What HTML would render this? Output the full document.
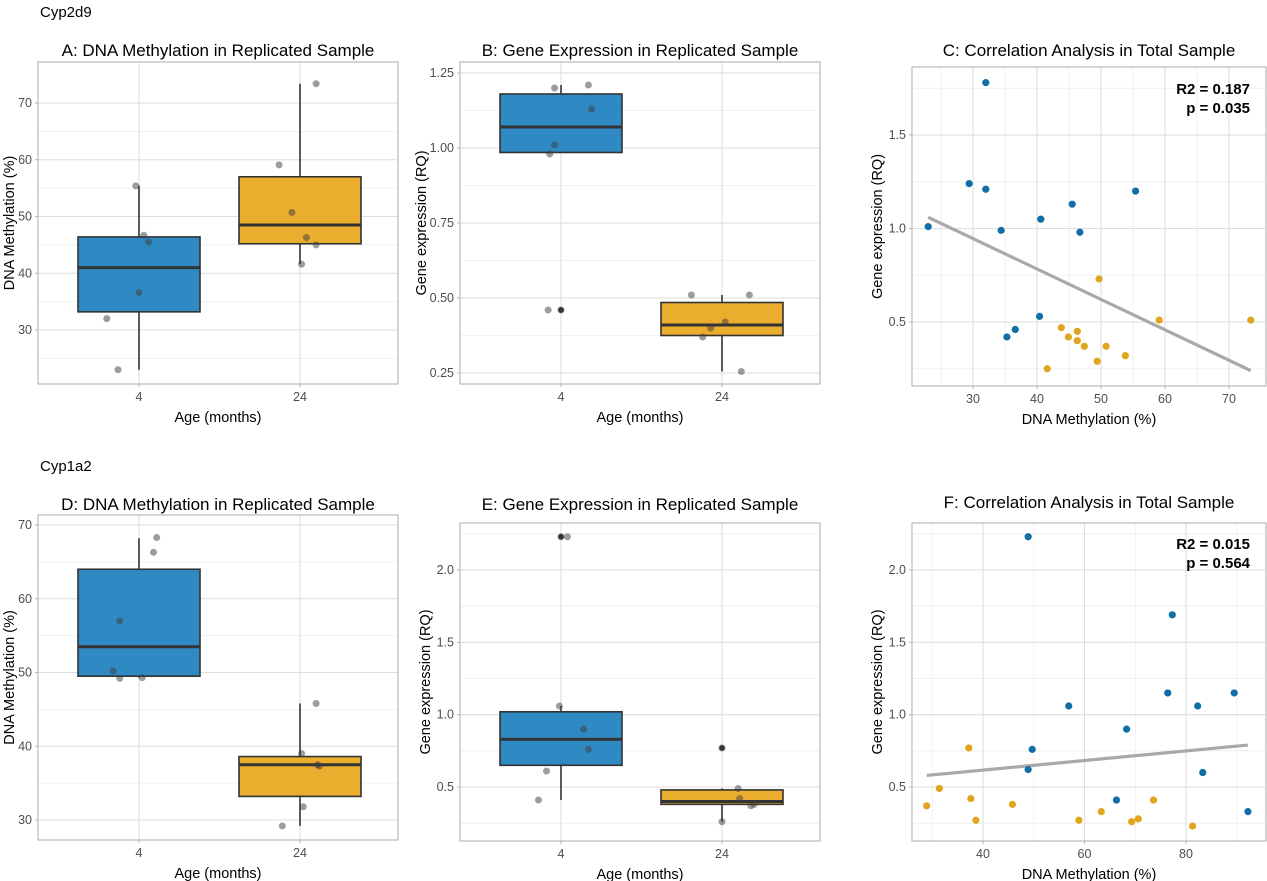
<!DOCTYPE html>
<html><head><meta charset="utf-8"><style>
body{margin:0;background:#fff;}
svg{display:block;font-family:"Liberation Sans",Arial,sans-serif;}
</style></head><body>
<svg id="chart" width="1267" height="881" viewBox="0 0 1267 881">
<text x="40" y="17" font-size="15" fill="#000">Cyp2d9</text>
<text x="40" y="471" font-size="15" fill="#000">Cyp1a2</text>
</svg>
<script>
// ---------- data ----------
const categories = ["4", "24"];
// Panel A (DNA methylation, Cyp2d9)
const aBox4 = [23, 33.2, 41, 46.4, 55.4];
const aBox24 = [41.6, 45.2, 48.5, 57, 73.4];
const aPts4 = [55.4, 46.7, 45.5, 36.6, 32, 23];
const aPts24 = [73.4, 59.1, 50.7, 46.3, 45, 41.6];
const aJit4 = [-0.02, 0.03, 0.06, 0.0, -0.2, -0.13];
const aJit24 = [0.1, -0.13, -0.05, 0.04, 0.1, 0.01];
const aTicks = [30, 40, 50, 60, 70];
// Panel B (gene expression, Cyp2d9)
const bBox4 = [0.985, 0.985, 1.07, 1.18, 1.21];
const bBox24 = [0.255, 0.375, 0.41, 0.485, 0.51];
const bPts4 = [1.21, 1.20, 1.13, 1.01, 0.98, 0.46, 0.46];
const bPts24 = [0.51, 0.51, 0.42, 0.40, 0.37, 0.255];
const bJit4 = [0.17, -0.04, 0.19, -0.04, -0.07, -0.08, 0.0];
const bJit24 = [-0.19, 0.17, 0.02, -0.07, -0.12, 0.12];
const bOut4 = [0.46, 0.46];
const bTicks = [0.25, 0.5, 0.75, 1.0, 1.25];
const bTickLabels = ["0.25", "0.50", "0.75", "1.00", "1.25"];
// Panel C (correlation, Cyp2d9)
const cYoungX = [32, 29.4, 32, 34.4, 23, 40.6, 45.5, 46.7, 55.4, 40.4, 35.3, 36.6];
const cYoungY = [1.78, 1.24, 1.21, 0.99, 1.01, 1.05, 1.13, 0.98, 1.20, 0.53, 0.42, 0.46];
const cOldX = [49.7, 59.1, 73.4, 43.8, 46.3, 44.9, 46.3, 47.4, 50.8, 53.8, 49.4, 41.6];
const cOldY = [0.73, 0.51, 0.51, 0.47, 0.45, 0.42, 0.40, 0.37, 0.37, 0.32, 0.29, 0.25];
const cFit = [[23, 1.06], [73.4, 0.24]];
const cXTicks = [30, 40, 50, 60, 70];
const cYTicks = [0.5, 1.0, 1.5];
// Panel D (DNA methylation, Cyp1a2)
const dBox4 = [49.3, 49.5, 53.5, 64, 68.2];
const dBox24 = [29.2, 33.2, 37.5, 38.6, 45.8];
const dPts4 = [68.3, 66.3, 57, 50.2, 49.2, 49.3];
const dPts24 = [45.8, 39, 37.5, 31.8, 29.2, 37.3];
const dJit4 = [0.11, 0.09, -0.12, -0.16, -0.12, 0.02];
const dJit24 = [0.1, 0.01, 0.11, 0.02, -0.11, 0.12];
const dTicks = [30, 40, 50, 60, 70];
// Panel E (gene expression, Cyp1a2)
const eBox4 = [0.41, 0.65, 0.83, 1.02, 1.06];
const eBox24 = [0.26, 0.38, 0.40, 0.48, 0.49];
const ePts4 = [2.23, 2.23, 1.06, 0.90, 0.76, 0.61, 0.41];
const ePts24 = [0.77, 0.49, 0.42, 0.37, 0.38, 0.26];
const eJit4 = [0.0, 0.04, -0.01, 0.14, 0.17, -0.09, -0.14];
const eJit24 = [0.0, 0.1, 0.11, 0.18, 0.2, 0.0];
const eOut4 = [2.23];
const eOut24 = [0.77];
const eTicks = [0.5, 1.0, 1.5, 2.0];
// Panel F (correlation, Cyp1a2)
const fYoungX = [48.9, 77.3, 76.4, 89.5, 56.9, 82.3, 68.3, 49.7, 48.9, 83.3, 66.3, 92.2];
const fYoungY = [2.23, 1.69, 1.15, 1.15, 1.06, 1.06, 0.90, 0.76, 0.62, 0.60, 0.41, 0.33];
const fOldX = [37.2, 31.4, 37.6, 45.8, 28.9, 73.6, 63.3, 38.6, 58.9, 69.3, 70.6, 81.3];
const fOldY = [0.77, 0.49, 0.42, 0.38, 0.37, 0.41, 0.33, 0.27, 0.27, 0.26, 0.28, 0.23];
const fFit = [[28.9, 0.58], [92.2, 0.79]];
const fXTicks = [40, 60, 80];
const fYTicks = [0.5, 1.0, 1.5, 2.0];

// ---------- drawing ----------
const svg = document.getElementById('chart');
const NS = 'http://www.w3.org/2000/svg';
function mk(tag, attrs, parent) {
  const e = document.createElementNS(NS, tag);
  for (const k in attrs) e.setAttribute(k, attrs[k]);
  (parent || svg).appendChild(e);
  return e;
}
function lin(d0, d1, r0, r1) { return v => r0 + (v - d0) * (r1 - r0) / (d1 - d0); }

function frame(p) {
  const g = mk('g', {});
  
  
  const t = mk('text', {x: (p.l + p.r) / 2, y: p.titleY, 'text-anchor': 'middle', 'font-size': 17, fill: '#000'}, g);
  t.textContent = p.title;
  
  
  p.yMinor.forEach(v => {
    const l = mk('line', {x1: p.l, x2: p.r, y1: p.y(v), y2: p.y(v), stroke: '#eeeeee', 'stroke-width': 0.8}, g);
    
    
  });
  (p.xMinor || []).forEach(v => {
    const l = mk('line', {x1: p.x(v), x2: p.x(v), y1: p.t, y2: p.b, stroke: '#eeeeee', 'stroke-width': 0.8}, g);
    
    
  });
  p.yTicks.forEach((v, i) => {
    const l = mk('line', {x1: p.l, x2: p.r, y1: p.y(v), y2: p.y(v), stroke: '#dedede', 'stroke-width': 1.1}, g);
    
    
    const tk = mk('line', {x1: p.l - 3, x2: p.l, y1: p.y(v), y2: p.y(v), stroke: '#b3b3b3'}, g);
    
    
    const tx = mk('text', {x: p.l - 6, y: p.y(v) + 4, 'text-anchor': 'end', 'font-size': 12.5, fill: '#4d4d4d'}, g);
    tx.textContent = p.yLabels ? p.yLabels[i] : String(v);
    
    
  });
  p.xTicks.forEach((v, i) => {
    const xx = p.x(v);
    const l = mk('line', {x1: xx, x2: xx, y1: p.t, y2: p.b, stroke: '#dedede', 'stroke-width': 1.1}, g);
    
    
    const tk = mk('line', {x1: xx, x2: xx, y1: p.b, y2: p.b + 3, stroke: '#b3b3b3'}, g);
    
    
    const tx = mk('text', {x: xx, y: p.b + 17, 'text-anchor': 'middle', 'font-size': 12.5, fill: '#4d4d4d'}, g);
    tx.textContent = p.xLabels[i];
    
    
  });
  const border = mk('rect', {x: p.l, y: p.t, width: p.r - p.l, height: p.b - p.t, fill: 'none', stroke: '#b3b3b3', 'stroke-width': 1.1}, g);
  
  
  const xt = mk('text', {x: (p.l + p.r) / 2, y: p.b + 38, 'text-anchor': 'middle', 'font-size': 14.5, fill: '#000'}, g);
  xt.textContent = p.xTitle;
  
  
  const cy = (p.t + p.b) / 2, cx = p.l - p.ytOff;
  const yt = mk('text', {x: cx, y: cy, 'text-anchor': 'middle', 'font-size': 14.5, fill: '#000', transform: `rotate(-90 ${cx} ${cy})`}, g);
  yt.textContent = p.yTitle;
  
  
  return g;
}

function boxPanel(p, boxes, pts, jits, outs) {
  const g = frame(p);
  const colors = ['#2f8ac4', '#ebad2d'];
  const half = 61;
  boxes.forEach((bx, i) => {
    const cx = p.x(i);
    const w = mk('line', {x1: cx, x2: cx, y1: p.y(bx[0]), y2: p.y(bx[4]), stroke: '#333', 'stroke-width': 1.6}, g);
    
    
    const r = mk('rect', {x: cx - half, y: p.y(bx[3]), width: half * 2, height: p.y(bx[1]) - p.y(bx[3]), fill: colors[i], stroke: '#333', 'stroke-width': 1.6}, g);
    
    
    const m = mk('line', {x1: cx - half, x2: cx + half, y1: p.y(bx[2]), y2: p.y(bx[2]), stroke: '#333', 'stroke-width': 3}, g);
    
    
    (outs[i] || []).forEach(v => {
      const o = mk('circle', {cx: cx, cy: p.y(v), r: 2.8, fill: '#333'}, g);
      
      
    });
    pts[i].forEach((v, k) => {
      const c = mk('circle', {cx: cx + jits[i][k] * 161, cy: p.y(v), r: 3.5, fill: 'rgba(60,60,60,0.5)'}, g);
      
      
    });
  });
}

function scatterPanel(p, yx, yy, ox, oy, fit, stats) {
  const g = frame(p);
  const fl = mk('line', {x1: p.x(fit[0][0]), y1: p.y(fit[0][1]), x2: p.x(fit[1][0]), y2: p.y(fit[1][1]), stroke: '#a9a9a9', 'stroke-width': 3.2}, g);
  
  
  yx.forEach((v, i) => {
    const c = mk('circle', {cx: p.x(v), cy: p.y(yy[i]), r: 3.6, fill: '#0f6fa6'}, g);
    
    
  });
  ox.forEach((v, i) => {
    const c = mk('circle', {cx: p.x(v), cy: p.y(oy[i]), r: 3.6, fill: '#e0a51e'}, g);
    
    
  });
  stats.forEach((s, i) => {
    const t = mk('text', {x: p.r - 16, y: p.statY + i * 19, 'text-anchor': 'end', 'font-size': 15, 'font-weight': 'bold', fill: '#000'}, g);
    t.textContent = s;
    
    
  });
}

const catX = (l) => i => l + 101 + i * 161;
boxPanel({id: 'panel-a', title: 'A: DNA Methylation in Replicated Sample', titleY: 56, l: 38, r: 398, t: 62, b: 384,
  x: catX(38), y: lin(30, 70, 330, 103), yTicks: aTicks, yMinor: [25, 35, 45, 55, 65],
  xTicks: [0, 1], xLabels: categories, xTitle: 'Age (months)', yTitle: 'DNA Methylation (%)', ytOff: 24},
  [aBox4, aBox24], [aPts4, aPts24], [aJit4, aJit24], [[], []]);
boxPanel({id: 'panel-b', title: 'B: Gene Expression in Replicated Sample', titleY: 56, l: 460, r: 820, t: 62, b: 384,
  x: catX(460), y: lin(0.25, 1.25, 373, 73), yTicks: bTicks, yLabels: bTickLabels, yMinor: [0.375, 0.625, 0.875, 1.125],
  xTicks: [0, 1], xLabels: categories, xTitle: 'Age (months)', yTitle: 'Gene expression (RQ)', ytOff: 34},
  [bBox4, bBox24], [bPts4, bPts24], [bJit4, bJit24], [bOut4, []]);
scatterPanel({id: 'panel-c', title: 'C: Correlation Analysis in Total Sample', titleY: 56, statY: 94, l: 912, r: 1266, t: 67, b: 386,
  x: lin(30, 70, 973, 1229), y: lin(0.5, 1.5, 322, 135), yTicks: cYTicks, yLabels: ['0.5', '1.0', '1.5'],
  yMinor: [0.25, 0.75, 1.25, 1.75], xMinor: [25, 35, 45, 55, 65],
  xTicks: cXTicks, xLabels: cXTicks.map(String), xTitle: 'DNA Methylation (%)', yTitle: 'Gene expression (RQ)', ytOff: 30},
  cYoungX, cYoungY, cOldX, cOldY, cFit, ['R2 = 0.187', 'p = 0.035']);
boxPanel({id: 'panel-d', title: 'D: DNA Methylation in Replicated Sample', titleY: 510, l: 38, r: 398, t: 515, b: 840,
  x: catX(38), y: lin(30, 70, 820, 525), yTicks: dTicks, yMinor: [35, 45, 55, 65],
  xTicks: [0, 1], xLabels: categories, xTitle: 'Age (months)', yTitle: 'DNA Methylation (%)', ytOff: 24},
  [dBox4, dBox24], [dPts4, dPts24], [dJit4, dJit24], [[], []]);
boxPanel({id: 'panel-e', title: 'E: Gene Expression in Replicated Sample', titleY: 510, l: 460, r: 820, t: 523, b: 841,
  x: catX(460), y: lin(0.5, 2.0, 787, 570), yTicks: eTicks, yLabels: ['0.5', '1.0', '1.5', '2.0'], yMinor: [0.25, 0.75, 1.25, 1.75, 2.25],
  xTicks: [0, 1], xLabels: categories, xTitle: 'Age (months)', yTitle: 'Gene expression (RQ)', ytOff: 30},
  [eBox4, eBox24], [ePts4, ePts24], [eJit4, eJit24], [eOut4, eOut24]);
scatterPanel({id: 'panel-f', title: 'F: Correlation Analysis in Total Sample', titleY: 508, statY: 549, l: 912, r: 1266, t: 523, b: 841,
  x: lin(40, 80, 983, 1186), y: lin(0.5, 2.0, 787, 570), yTicks: fYTicks, yLabels: ['0.5', '1.0', '1.5', '2.0'],
  yMinor: [0.25, 0.75, 1.25, 1.75, 2.25], xMinor: [30, 50, 70, 90],
  xTicks: fXTicks, xLabels: fXTicks.map(String), xTitle: 'DNA Methylation (%)', yTitle: 'Gene expression (RQ)', ytOff: 30},
  fYoungX, fYoungY, fOldX, fOldY, fFit, ['R2 = 0.015', 'p = 0.564']);
</script>
</body></html>
